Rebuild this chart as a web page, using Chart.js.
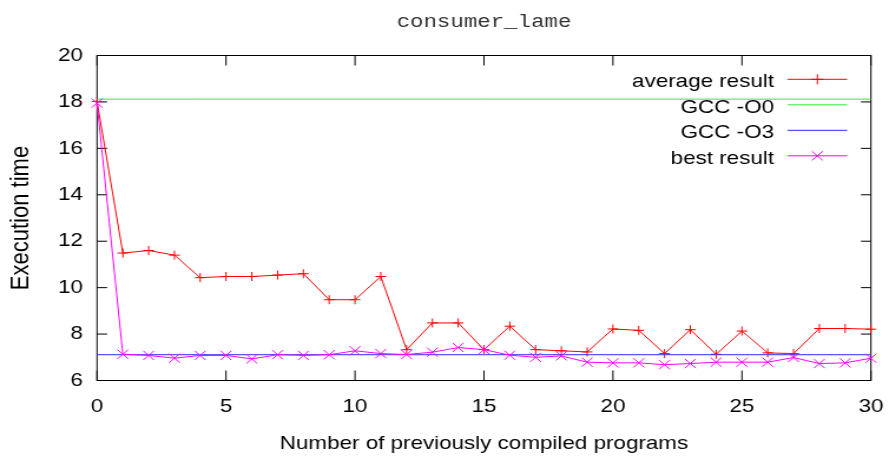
<!DOCTYPE html>
<html>
<head>
<meta charset="utf-8">
<script src="https://cdn.jsdelivr.net/npm/chart.js@4.4.1/dist/chart.umd.min.js"></script>
<style>
  html, body { margin: 0; padding: 0; background: #fff; overflow: hidden; }
  /* the plot is drawn narrower and widened horizontally, like the original gnuplot output */
  #wrap { width: 754px; height: 459px; transform: scaleX(1.179); transform-origin: 0 0; }
  canvas { display: block; }
</style>
</head>
<body>
<div id="wrap"><canvas id="c" width="754" height="459"></canvas></div>
<script>
// Number of previously compiled programs
const programs = [0, 1, 2, 3, 4, 5, 6, 7, 8, 9, 10, 11, 12, 13, 14, 15, 16, 17, 18, 19, 20,
                  21, 22, 23, 24, 25, 26, 27, 28, 29, 30];

// Execution time of the average result
const averageResult = [18.02, 11.49, 11.60, 11.40, 10.43, 10.48, 10.48, 10.54, 10.60, 9.48, 9.48,
                       10.48, 7.33, 8.48, 8.48, 7.33, 8.34, 7.33, 7.28, 7.23, 8.22,
                       8.16, 7.16, 8.19, 7.13, 8.13, 7.19, 7.16, 8.24, 8.24, 8.21];

// Execution time of the best result
const bestResult = [17.95, 7.13, 7.08, 6.96, 7.08, 7.08, 6.93, 7.11, 7.08, 7.11, 7.28,
                    7.16, 7.12, 7.22, 7.42, 7.33, 7.09, 7.00, 7.06, 6.79, 6.76,
                    6.76, 6.68, 6.73, 6.79, 6.79, 6.79, 6.99, 6.73, 6.76, 6.96];

// Reference compiler baselines
const gccO0 = 18.12;
const gccO3 = 7.11;

const xTicks = { min: 0, max: 30, step: 5 };
const yTicks = { min: 6, max: 20, step: 2 };

const SANS = "'Liberation Sans', Arial, Helvetica, sans-serif";
const MONO = "'Liberation Mono', 'Courier New', monospace";

const toPoints = (ys) => programs.map((x, i) => ({ x: x, y: ys[i] }));
const flat = (v) => [{ x: xTicks.min, y: v }, { x: xTicks.max, y: v }];

// Box around the plot with inward tick marks on all four sides
const frame = {
  id: 'frame',
  beforeDatasetsDraw(chart) {
    const { ctx, chartArea: a, scales } = chart;
    ctx.save();
    ctx.strokeStyle = '#000';
    ctx.lineWidth = 1;
    ctx.beginPath();
    scales.x.ticks.forEach(t => {
      const px = scales.x.getPixelForValue(t.value);
      ctx.moveTo(px, a.bottom); ctx.lineTo(px, a.bottom - 10);
      ctx.moveTo(px, a.top); ctx.lineTo(px, a.top + 10);
    });
    scales.y.ticks.forEach(t => {
      const py = scales.y.getPixelForValue(t.value);
      ctx.moveTo(a.left, py); ctx.lineTo(a.left + 8.5, py);
      ctx.moveTo(a.right, py); ctx.lineTo(a.right - 8.5, py);
    });
    ctx.stroke();
    ctx.strokeRect(a.left, a.top, a.right - a.left, a.bottom - a.top);
    ctx.restore();
  }
};

// Key in the top right corner: label, line sample and marker
const keyBox = {
  id: 'keyBox',
  afterDatasetsDraw(chart) {
    const ctx = chart.ctx;
    const textRight = 656.5, lineFrom = 668, lineTo = 718.5, firstRow = 79.3, rowStep = 25.5;
    ctx.save();
    ctx.font = '19px ' + SANS;
    ctx.textAlign = 'right';
    ctx.textBaseline = 'alphabetic';
    chart.data.datasets.forEach((ds, i) => {
      const yy = firstRow + i * rowStep;
      ctx.fillStyle = '#000';
      ctx.fillText(ds.label, textRight, yy + 8);
      ctx.strokeStyle = ds.borderColor;
      ctx.lineWidth = 1;
      ctx.beginPath();
      ctx.moveTo(lineFrom, yy); ctx.lineTo(lineTo, yy);
      ctx.stroke();
      if (ds.pointRadius > 0) {
        Chart.helpers.drawPoint(ctx, {
          pointStyle: ds.pointStyle, radius: ds.keyRadius, rotation: 0, borderWidth: 1
        }, (lineFrom + lineTo) / 2, yy);
      }
    });
    ctx.restore();
  }
};

// Title centred over the plot area
const plotTitle = {
  id: 'plotTitle',
  afterDraw(chart) {
    const { ctx, chartArea: a } = chart;
    ctx.save();
    ctx.font = '19px ' + MONO;
    ctx.fillStyle = '#333';
    ctx.textAlign = 'center';
    ctx.textBaseline = 'alphabetic';
    ctx.fillText('consumer_lame', (a.left + a.right) / 2, 27);
    ctx.restore();
  }
};

Chart.defaults.font.family = SANS;
Chart.defaults.font.size = 19;
Chart.defaults.color = '#000';

new Chart(document.getElementById('c'), {
  type: 'line',
  data: {
    datasets: [
      {
        label: 'average result', data: toPoints(averageResult),
        borderColor: '#ff0000', backgroundColor: '#ff0000', borderWidth: 1,
        pointStyle: 'cross', pointRadius: 4.5, keyRadius: 5, pointBorderWidth: 1,
        pointBorderColor: '#ff0000', order: 3, clip: false, tension: 0, fill: false
      },
      {
        label: 'GCC -O0', data: flat(gccO0),
        borderColor: '#33ee33', backgroundColor: '#33ee33', borderWidth: 1,
        pointRadius: 0, order: 2, fill: false
      },
      {
        label: 'GCC -O3', data: flat(gccO3),
        borderColor: '#2a2aff', backgroundColor: '#2a2aff', borderWidth: 1,
        pointRadius: 0, order: 1, fill: false
      },
      {
        label: 'best result', data: toPoints(bestResult),
        borderColor: '#ff00ff', backgroundColor: '#ff00ff', borderWidth: 1,
        pointStyle: 'crossRot', pointRadius: 6.5, keyRadius: 6.5, pointBorderWidth: 1,
        pointBorderColor: '#ff00ff', order: 0, clip: false, tension: 0, fill: false
      }
    ]
  },
  options: {
    responsive: false,
    animation: false,
    devicePixelRatio: 1,
    layout: { padding: { top: 55.5, right: 15.3, left: 0, bottom: 0 } },
    plugins: {
      legend: { display: false },
      title: { display: false },
      tooltip: { enabled: false }
    },
    scales: {
      x: {
        type: 'linear', min: xTicks.min, max: xTicks.max,
        ticks: { stepSize: xTicks.step, padding: 15, maxRotation: 0 },
        grid: { display: false, drawTicks: false },
        border: { display: false },
        title: { display: true, text: 'Number of previously compiled programs', padding: { top: 0, bottom: 3.6 } },
        afterFit(s) { s.height = 78.5; s.paddingLeft = 0; s.paddingRight = 0; }
      },
      y: {
        type: 'linear', min: yTicks.min, max: yTicks.max,
        ticks: { stepSize: yTicks.step, padding: 12 },
        grid: { display: false, drawTicks: false },
        border: { display: false },
        title: { display: true, text: 'Execution time', font: { size: 22 }, padding: { top: 4.6, bottom: 0 } },
        afterFit(s) { s.width = 82.3; s.paddingTop = 0; s.paddingBottom = 0; }
      }
    }
  },
  plugins: [frame, keyBox, plotTitle]
});
</script>
</body>
</html>
